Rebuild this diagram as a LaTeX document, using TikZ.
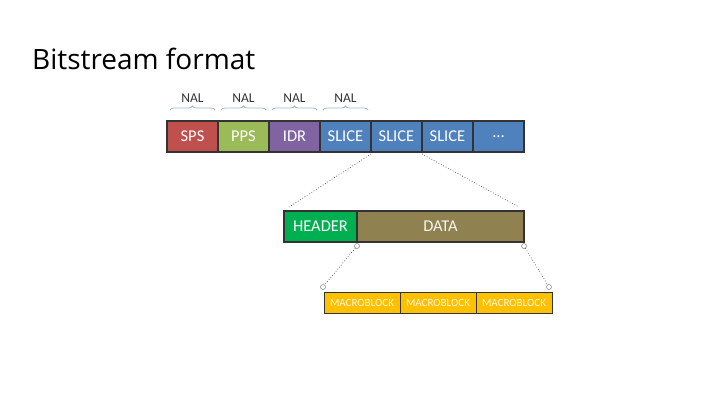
\documentclass[tikz,border=0pt]{standalone}
\usepackage{fontspec}
\setmainfont{Carlito}
\newfontfamily\titlefont{Open Sans}
\usetikzlibrary{positioning,decorations.pathreplacing}

\begin{document}
\begin{tikzpicture}[x=1pt,y=-1pt,
    pkt/.style={draw=black!80, line width=1.1pt, inner sep=0pt, outer sep=0pt,
        minimum width=51pt, minimum height=31pt, text=white,
        font=\fontsize{16.5}{18}\selectfont},
    mblock/.style={draw=black!80, line width=1pt, inner sep=0pt, outer sep=0pt,
        fill=mbyellow, minimum width=76pt, minimum height=21pt,
        text=white!88!mbyellow, font=\fontsize{11}{12}\selectfont},
    nalbrace/.style={decorate, decoration={brace, amplitude=4pt},
        draw=braceblue, line width=0.8pt},
    nallabel/.style={above=7pt, inner sep=0pt, text=black!80,
        font=\fontsize{13.5}{15}\selectfont},
    zoomline/.style={draw=black!70, dotted, line width=0.7pt},
    handle/.style={circle, draw=gray, fill=white, line width=0.5pt,
        inner sep=0pt, minimum size=5pt}]
    % Colours of the packet types
    \definecolor{spsred}{HTML}{C0504D}
    \definecolor{ppsgreen}{HTML}{9BBB59}
    \definecolor{idrpurple}{HTML}{8064A2}
    \definecolor{sliceblue}{HTML}{4F81BD}
    \definecolor{hdrgreen}{HTML}{00B050}
    \definecolor{dataolive}{HTML}{8F8150}
    \definecolor{mbyellow}{HTML}{FFC000}
    \definecolor{braceblue}{HTML}{9FB6CD}

    \useasboundingbox (0,0) rectangle (720,405);

    % Title
    \node[anchor=base west, inner sep=0pt, font=\titlefont\fontsize{28}{32}\selectfont]
        (title) at (32,69) {Bitstream format};

    % Stream of NAL units
    \node[pkt, fill=spsred, anchor=north west] (sps) at (167,121) {SPS};
    \node[pkt, fill=ppsgreen, right=0pt of sps] (pps) {PPS};
    \node[pkt, fill=idrpurple, right=0pt of pps] (idr) {IDR};
    \node[pkt, fill=sliceblue, right=0pt of idr] (slice1) {SLICE};
    \node[pkt, fill=sliceblue, right=0pt of slice1] (slice2) {SLICE};
    \node[pkt, fill=sliceblue, right=0pt of slice2] (slice3) {SLICE};
    \node[pkt, fill=sliceblue, right=0pt of slice3] (more) {...};

    % Braces
    \foreach \unit in {sps,pps,idr,slice1}
        \draw[nalbrace] ([xshift=3pt, yshift=11pt]\unit.north west)
            -- node[nallabel] {NAL} ([xshift=-3pt, yshift=11pt]\unit.north east);

    % Slice
    \node[pkt, fill=hdrgreen, minimum width=73pt, anchor=north west] (header) at (284,211) {HEADER};
    \node[pkt, fill=dataolive, minimum width=167pt, right=0pt of header,
        text=white!92!dataolive] (data) {DATA};

    \coordinate (hl) at (289,207);
    \coordinate (hr) at (519,207);
    \draw[zoomline] ([yshift=-2pt]slice2.south west) -- (hl);
    \draw[zoomline] ([yshift=-2pt]slice2.south east) -- (hr);

    % Macroblocks
    \node[mblock, anchor=north west] (mb1) at (324,292) {MACROBLOCK};
    \node[mblock, right=0pt of mb1] (mb2) {MACROBLOCK};
    \node[mblock, right=0pt of mb2] (mb3) {MACROBLOCK};

    \node[handle] (h1) at ([yshift=-4pt]data.south west) {};
    \node[handle] (h2) at ([yshift=-4pt]data.south east) {};
    \node[handle] (h3) at ([xshift=-1pt, yshift=5pt]mb1.north west) {};
    \node[handle] (h4) at ([xshift=-3pt, yshift=5pt]mb3.north east) {};
    \draw[zoomline] (h1) -- (h3);
    \draw[zoomline] (h2) -- (h4);
\end{tikzpicture}
\end{document}
